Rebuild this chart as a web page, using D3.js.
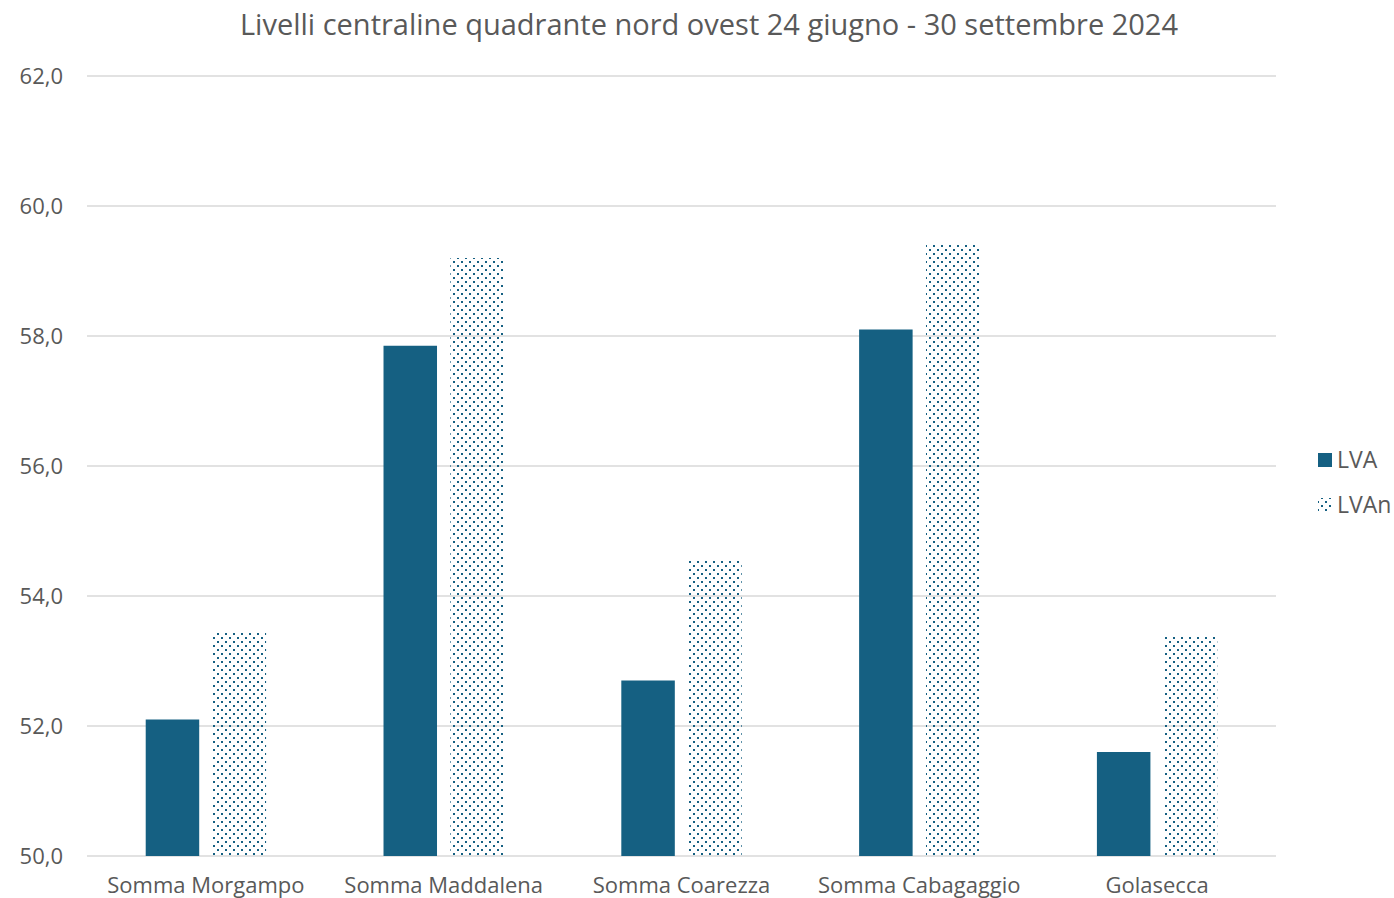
<!DOCTYPE html>
<html>
<head>
<meta charset="utf-8">
<script src="https://cdn.jsdelivr.net/npm/d3@7"></script>
<style>
  body { margin: 0; background: #fff; }
  svg text { font-family: "Open Sans", "Noto Sans", sans-serif; fill: #595959; }
</style>
</head>
<body>
<svg id="chart"></svg>
<script>
// chart data
const categories = ['Somma Morgampo', 'Somma Maddalena', 'Somma Coarezza', 'Somma Cabagaggio', 'Golasecca'];
const seriesNames = ['LVA', 'LVAn'];
const lvaValues = [52.1, 57.85, 52.7, 58.1, 51.6];
const lvanValues = [53.45, 59.2, 54.55, 59.42, 53.4];
const yTicks = [50, 52, 54, 56, 58, 60, 62];
const title = 'Livelli centraline quadrante nord ovest 24 giugno - 30 settembre 2024';

const width = 1394;
const height = 898;
const barColor = '#156082';
const plot = { left: 87, right: 1276, top: 76, bottom: 856 };

const svg = d3.select('#chart')
  .attr('width', width)
  .attr('height', height);

// dotted fill for the LVAn series
const defs = svg.append('defs');
const pattern = defs.append('pattern')
  .attr('id', 'dots')
  .attr('patternUnits', 'userSpaceOnUse')
  .attr('width', 8)
  .attr('height', 8);
pattern.append('rect').attr('x', 1).attr('y', 1).attr('width', 2).attr('height', 2).attr('fill', barColor);
pattern.append('rect').attr('x', 5).attr('y', 5).attr('width', 2).attr('height', 2).attr('fill', barColor);

const y = d3.scaleLinear()
  .domain([50, 62])
  .range([plot.bottom, plot.top]);

const x0 = d3.scaleBand()
  .domain(categories)
  .range([plot.left, plot.right])
  .paddingInner(0)
  .paddingOuter(0);

// bar width and gap inside each category (Excel-like gap/overlap)
const barW = x0.bandwidth() * 53.5 / 237.8;
const barGap = barW * 0.25;

// gridlines
svg.append('g')
  .selectAll('line')
  .data(yTicks)
  .enter()
  .append('line')
  .attr('x1', plot.left)
  .attr('x2', plot.right)
  .attr('y1', d => y(d))
  .attr('y2', d => y(d))
  .attr('stroke', '#d9d9d9')
  .attr('stroke-width', 1.5);

// y tick labels
svg.append('g')
  .selectAll('text')
  .data(yTicks)
  .enter()
  .append('text')
  .attr('x', 63)
  .attr('y', d => y(d))
  .attr('dy', '0.35em')
  .attr('text-anchor', 'end')
  .style('font-size', '22px')
  .text(d => d.toFixed(1).replace('.', ','));

// bars
const series = [
  { name: seriesNames[0], values: lvaValues, fill: barColor },
  { name: seriesNames[1], values: lvanValues, fill: 'url(#dots)' }
];
const groupW = barW * 2 + barGap;

series.forEach((s, si) => {
  svg.append('g')
    .selectAll('rect')
    .data(s.values)
    .enter()
    .append('rect')
    .attr('x', (d, i) => x0(categories[i]) + (x0.bandwidth() - groupW) / 2 + si * (barW + barGap))
    .attr('y', d => y(d))
    .attr('width', barW)
    .attr('height', d => y(50) - y(d))
    .attr('fill', s.fill);
});

// category labels
svg.append('g')
  .selectAll('text')
  .data(categories)
  .enter()
  .append('text')
  .attr('x', d => x0(d) + x0.bandwidth() / 2)
  .attr('y', 893)
  .attr('text-anchor', 'middle')
  .style('font-size', '22px')
  .text(d => d);

// title
svg.append('text')
  .attr('x', 709)
  .attr('y', 35)
  .attr('text-anchor', 'middle')
  .style('font-size', '29px')
  .text(title);

// legend
const legend = svg.append('g');
series.forEach((s, si) => {
  const ly = 460 + si * 45;
  legend.append('rect')
    .attr('x', 1318)
    .attr('y', ly - 7)
    .attr('width', 14)
    .attr('height', 14)
    .attr('fill', s.fill);
  legend.append('text')
    .attr('x', 1337)
    .attr('y', ly)
    .attr('dy', '0.35em')
    .style('font-size', '23px')
    .text(s.name);
});
</script>
</body>
</html>
